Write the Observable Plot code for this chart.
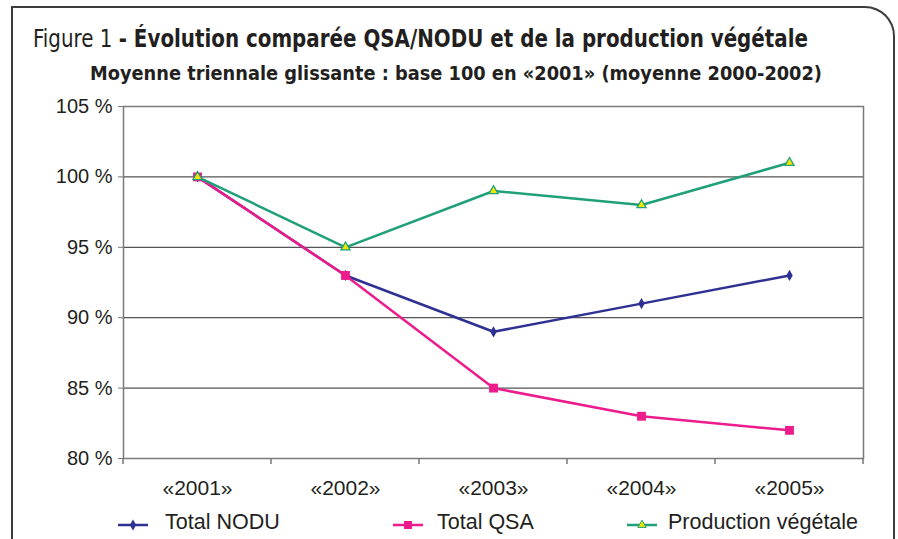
<!DOCTYPE html>
<html>
<head>
<meta charset="utf-8">
<script src="https://cdn.jsdelivr.net/npm/d3@7"></script>
<script src="https://cdn.jsdelivr.net/npm/@observablehq/plot@0.6"></script>
<style>
  html, body { margin: 0; padding: 0; background: #fff; }
  #wrap { position: relative; width: 898px; height: 539px; overflow: hidden; background: #fff; }
  #border { position: absolute; left: 11px; top: 6px; width: 884px; height: 600px;
    border-top: 2px solid #3c3c3c; border-left: 2px solid #3c3c3c; border-right: 2px solid #3c3c3c;
    border-top-right-radius: 30px; box-sizing: border-box; }
  #title { position: absolute; left: 33px; top: 24px; white-space: nowrap; transform-origin: 0 0;
    font-family: "DejaVu Sans Condensed", "Liberation Sans Narrow", sans-serif; font-stretch: condensed;
    font-size: 25px; color: #231f20; }
  #title b { font-weight: 600; }
  #subtitle { position: absolute; left: 90px; top: 61px; white-space: nowrap; transform-origin: 0 0;
    font-family: "DejaVu Sans Condensed", "Liberation Sans Narrow", sans-serif; font-stretch: condensed;
    font-size: 20px; font-weight: 600; color: #231f20; }
  #chart { position: absolute; left: 0; top: 0; }
  .leg { position: absolute; top: 510px; font-family: "Liberation Sans", Arial, sans-serif; font-size: 21.5px; color: #231f20; white-space: nowrap; }
</style>
</head>
<body>
<div id="wrap">
  <div id="border"></div>
  <div id="chart"></div>
  <div id="title">Figure 1 <b>- Évolution comparée QSA/NODU et de la production végétale</b></div>
  <div id="subtitle">Moyenne triennale glissante : base 100 en «2001» (moyenne 2000-2002)</div>
  <div id="legend"></div>
</div>
<script>
const years = ["«2001»", "«2002»", "«2003»", "«2004»", "«2005»"];
const totalNODU = [100, 93, 89, 91, 93];
const totalQSA = [100, 93, 85, 83, 82];
const productionVegetale = [100, 95, 99, 98, 101];
const seriesNames = ["Total NODU", "Total QSA", "Production végétale"];
const yTicks = [80, 85, 90, 95, 100, 105];

const colors = { "Total NODU": "#2e3192", "Total QSA": "#ec1c8c", "Production végétale": "#1fa07a" };

const rows = [];
[totalNODU, totalQSA, productionVegetale].forEach((vals, s) => {
  vals.forEach((v, i) => rows.push({ series: seriesNames[s], year: years[i], value: v }));
});
const bySeries = name => rows.filter(r => r.series === name);

// fit condensed title texts to the reference widths
function fitWidth(id, target) {
  const el = document.getElementById(id);
  const w = el.getBoundingClientRect().width;
  if (w > 0) el.style.transform = `scaleX(${target / w})`;
}
fitWidth("title", 775);
fitWidth("subtitle", 732);

// tick marks at the band boundaries of the category axis
function bandBoundaryTicks(index, scales) {
  const x = scales.x, y = scales.y;
  const bw = x.bandwidth ? x.bandwidth() : 0;
  const g = d3.create("svg:g").attr("stroke", "#777").attr("stroke-width", 1.5);
  const pos = years.map(c => x(c)).concat([x(years[years.length - 1]) + bw]);
  const y0 = y(yTicks[0]);
  pos.forEach(px => g.append("line").attr("x1", px).attr("x2", px).attr("y1", y0).attr("y2", y0 + 6));
  return g.node();
}

const plot = Plot.plot({
  width: 898,
  height: 539,
  marginLeft: 123,
  marginRight: 35,
  marginTop: 106,
  marginBottom: 81,
  style: { background: "transparent", fontFamily: "'Liberation Sans', Arial, sans-serif", color: "#231f20", overflow: "visible" },
  x: { type: "band", domain: years, padding: 0, label: null },
  y: { domain: [80, 105], label: null },
  marks: [
    Plot.ruleY(yTicks, { stroke: "#555", strokeWidth: 1.2 }),
    Plot.frame({ stroke: "#7a7a7a", strokeWidth: 1.5 }),
    Plot.axisY({ ticks: yTicks, tickFormat: d => `${d} %`, tickSize: 5, tickPadding: 6, fontSize: 20, stroke: "#777", label: null }),
    Plot.axisX({ tickSize: 0, tickPadding: 22, fontSize: 21, label: null }),
    bandBoundaryTicks,
    Plot.line(bySeries("Total NODU"), { x: "year", y: "value", stroke: colors["Total NODU"], strokeWidth: 2.5 }),
    Plot.line(bySeries("Total QSA"), { x: "year", y: "value", stroke: colors["Total QSA"], strokeWidth: 2.5 }),
    Plot.line(bySeries("Production végétale"), { x: "year", y: "value", stroke: colors["Production végétale"], strokeWidth: 2.5 }),
    Plot.dot(bySeries("Total NODU"), { x: "year", y: "value", symbol: "diamond", fill: colors["Total NODU"], r: 3.4 }),
    Plot.dot(bySeries("Total QSA"), { x: "year", y: "value", symbol: "square", fill: colors["Total QSA"], r: 5 }),
    Plot.dot(bySeries("Production végétale"), { x: "year", y: "value", symbol: "triangle", fill: "#f2e600", stroke: colors["Production végétale"], strokeWidth: 1.3, r: 3.4 })
  ]
});
document.getElementById("chart").appendChild(plot);

// legend
const legendLayout = [
  { name: "Total NODU", lineX: 118, textX: 165, sym: d3.symbolDiamond, size: 36, fill: colors["Total NODU"], stroke: "none" },
  { name: "Total QSA", lineX: 393, textX: 437, sym: d3.symbolSquare, size: 64, fill: colors["Total QSA"], stroke: "none" },
  { name: "Production végétale", lineX: 627, textX: 668, sym: d3.symbolTriangle, size: 30, fill: "#f2e600", stroke: colors["Production végétale"] }
];
const legend = document.getElementById("legend");
legendLayout.forEach(l => {
  const svg = d3.create("svg").attr("width", 32).attr("height", 20)
    .style("position", "absolute").style("left", l.lineX + "px").style("top", "514px");
  svg.append("line").attr("x1", 0).attr("x2", 30).attr("y1", 11).attr("y2", 11)
    .attr("stroke", colors[l.name]).attr("stroke-width", 2.5);
  svg.append("path").attr("transform", "translate(15,11)")
    .attr("d", d3.symbol(l.sym, l.size)()).attr("fill", l.fill).attr("stroke", l.stroke);
  legend.appendChild(svg.node());
  const t = document.createElement("div");
  t.className = "leg";
  t.style.left = l.textX + "px";
  t.textContent = l.name;
  legend.appendChild(t);
});
</script>
</body>
</html>
